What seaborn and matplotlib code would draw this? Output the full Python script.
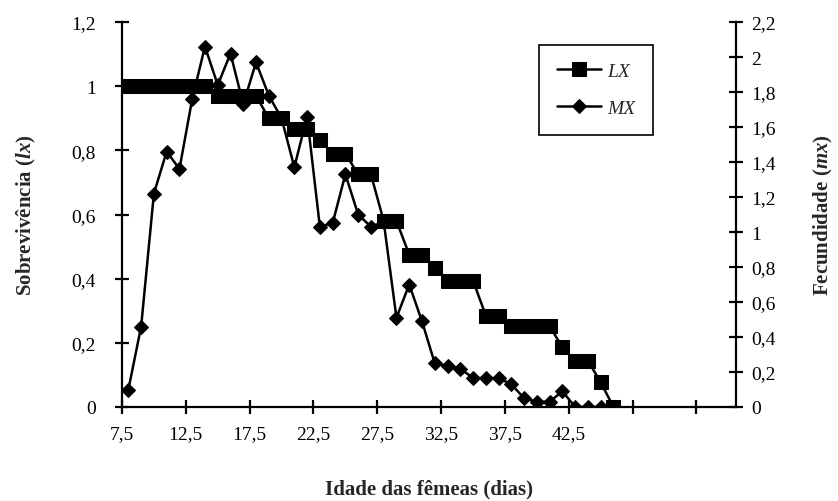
import matplotlib
matplotlib.use("Agg")
import matplotlib.pyplot as plt
import seaborn as sns
import pandas as pd

# ---- data ----
idade_lx = [8, 9, 10, 11, 12, 13, 14, 15, 16, 17, 18, 19, 20, 21, 22, 23, 24, 25, 26, 27,
            28, 29, 30, 31, 32, 33, 34, 35, 36, 37, 38, 39, 40, 41, 42, 43, 44, 45, 46]
lx = [1.0, 1.0, 1.0, 1.0, 1.0, 1.0, 1.0, 0.97, 0.97, 0.97, 0.97, 0.90, 0.90, 0.867, 0.867,
      0.832, 0.79, 0.79, 0.725, 0.725, 0.58, 0.58, 0.475, 0.475, 0.433, 0.394, 0.394, 0.394,
      0.285, 0.285, 0.252, 0.252, 0.252, 0.252, 0.186, 0.144, 0.144, 0.077, 0.0]

idade_mx = [8, 9, 10, 11, 12, 13, 14, 15, 16, 17, 18, 19, 20, 21, 22, 23, 24, 25, 26, 27,
            28, 29, 30, 31, 32, 33, 34, 35, 36, 37, 38, 39, 40, 41, 42, 43, 44, 45]
mx = [0.10, 0.46, 1.22, 1.46, 1.36, 1.76, 2.06, 1.84, 2.02, 1.73, 1.97, 1.78, 1.65, 1.37,
      1.66, 1.03, 1.05, 1.33, 1.10, 1.03, 1.06, 0.51, 0.70, 0.49, 0.25, 0.235, 0.22, 0.165,
      0.165, 0.165, 0.13, 0.05, 0.03, 0.03, 0.09, 0.0, 0.0, 0.0]

x_ticks = [7.5, 12.5, 17.5, 22.5, 27.5, 32.5, 37.5, 42.5, 47.5, 52.5]
x_ticklabels = ["7,5", "12,5", "17,5", "22,5", "27,5", "32,5", "37,5", "42,5", "", ""]
y1_ticks = [0, 0.2, 0.4, 0.6, 0.8, 1.0, 1.2]
y1_ticklabels = ["0", "0,2", "0,4", "0,6", "0,8", "1", "1,2"]
y2_ticks = [0, 0.2, 0.4, 0.6, 0.8, 1.0, 1.2, 1.4, 1.6, 1.8, 2.0, 2.2]
y2_ticklabels = ["0", "0,2", "0,4", "0,6", "0,8", "1", "1,2", "1,4", "1,6", "1,8", "2", "2,2"]

# ---- style ----
sns.set_style("ticks")
plt.rcParams["font.family"] = ["Liberation Serif", "DejaVu Serif"]
plt.rcParams["mathtext.fontset"] = "custom"
plt.rcParams["mathtext.it"] = "Liberation Serif:italic:bold"
plt.rcParams["mathtext.rm"] = "Liberation Serif:bold"

df_lx = pd.DataFrame({"idade": idade_lx, "lx": lx})
df_mx = pd.DataFrame({"idade": idade_mx, "mx": mx})

fig = plt.figure(figsize=(8.38, 5.02), dpi=100)
ax = fig.add_axes([122 / 838, 1 - 408 / 502, (736 - 122) / 838, (408 - 23) / 502])
ax2 = ax.twinx()

sns.lineplot(data=df_lx, x="idade", y="lx", ax=ax, color="black", lw=1.8,
             marker="s", markersize=10, markeredgecolor="black", label="LX", legend=False)
sns.lineplot(data=df_mx, x="idade", y="mx", ax=ax2, color="black", lw=1.8,
             marker="D", markersize=7, markeredgecolor="black", label="MX", legend=False)

ax.set_xlim(7.5, 55.6)
ax.set_ylim(0, 1.2)
ax2.set_ylim(0, 2.2)

fs_tick = 14
ax.set_xticks(x_ticks)
ax.set_xticklabels(x_ticklabels, fontsize=fs_tick)
ax.set_yticks(y1_ticks)
ax.set_yticklabels(y1_ticklabels, fontsize=fs_tick)
ax2.set_yticks(y2_ticks)
ax2.set_yticklabels(y2_ticklabels, fontsize=fs_tick)

for a in (ax, ax2):
    a.spines["top"].set_visible(False)
    for s in ("left", "right", "bottom"):
        a.spines[s].set_linewidth(1.6)
        a.spines[s].set_color("black")
    a.tick_params(direction="inout", length=10, width=1.6, colors="black")
ax.spines["right"].set_visible(False)
ax2.spines["left"].set_visible(False)
ax2.spines["bottom"].set_visible(False)

ax.tick_params(axis="y", pad=14)
ax.tick_params(axis="x", pad=8)
ax2.tick_params(axis="y", pad=6)

ax.set_xlabel("Idade das fêmeas (dias)", fontsize=15, fontweight="bold", labelpad=26)
ax.set_ylabel("Sobrevivência ($lx$)", fontsize=15, fontweight="bold", labelpad=24)
ax2.set_ylabel("Fecundidade ($mx$)", fontsize=15, fontweight="bold", labelpad=26)

h1, l1 = ax.get_legend_handles_labels()
h2, l2 = ax2.get_legend_handles_labels()
leg = ax2.legend(h1 + h2, l1 + l2, loc="upper left",
                 bbox_to_anchor=((539 - 122) / 614, 1 - (46 - 23) / 385),
                 borderaxespad=0,
                 prop={"family": "Liberation Serif", "style": "italic", "size": 14},
                 frameon=True, fancybox=False, edgecolor="black", framealpha=1,
                 handlelength=2.3, borderpad=0.9, labelspacing=1.0, handletextpad=0.3)
leg.get_frame().set_linewidth(1.2)

fig.savefig("out.png", dpi=100)
